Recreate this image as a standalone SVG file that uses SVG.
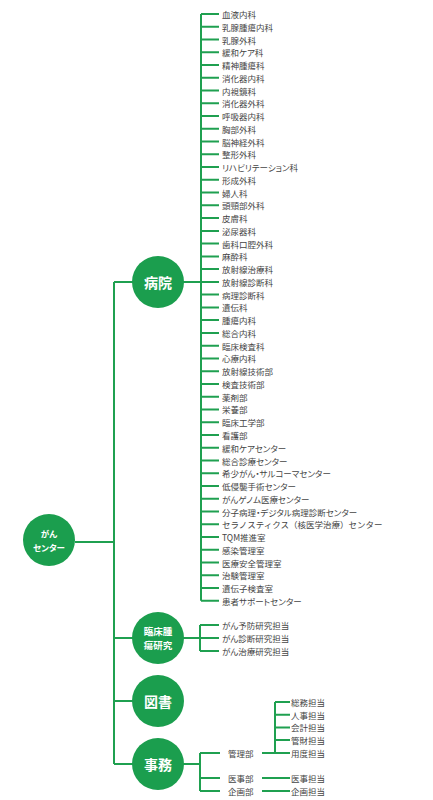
<svg xmlns="http://www.w3.org/2000/svg" width="433" height="800" viewBox="0 0 433 800">
<style>
.ln{fill:none;stroke:#1fa050;stroke-width:2}
.c{fill:#1b9e4e}
.lb{font-family:"Noto Sans CJK JP","Noto Sans",sans-serif;font-weight:bold;fill:#ffffff;text-anchor:middle;dominant-baseline:central;font-feature-settings:"palt"}
.t{font-family:"Noto Sans CJK JP","Noto Sans",sans-serif;font-size:8.5px;fill:#444444;dominant-baseline:central;font-feature-settings:"palt"}
.fw{font-feature-settings:normal}
</style>
<rect width="433" height="800" fill="#ffffff"/>
<g id="connectors">
<path class="ln" d="M114 282 V764 M75 542 H114 M114 282 H201 M201 14 V600.8 M201 14 H219 M201 26.8 H219 M201 39.5 H219 M201 52.3 H219 M201 65 H219 M201 77.8 H219 M201 90.5 H219 M201 103.3 H219 M201 116 H219 M201 128.8 H219 M201 141.6 H219 M201 154.3 H219 M201 167.1 H219 M201 179.8 H219 M201 192.6 H219 M201 205.3 H219 M201 218.1 H219 M201 230.9 H219 M201 243.6 H219 M201 256.4 H219 M201 269.1 H219 M201 281.9 H219 M201 294.6 H219 M201 307.4 H219 M201 320.1 H219 M201 332.9 H219 M201 345.7 H219 M201 358.4 H219 M201 371.2 H219 M201 383.9 H219 M201 396.7 H219 M201 409.4 H219 M201 422.2 H219 M201 434.9 H219 M201 447.7 H219 M201 460.5 H219 M201 473.2 H219 M201 486 H219 M201 498.7 H219 M201 511.5 H219 M201 524.2 H219 M201 537 H219 M201 549.8 H219 M201 562.5 H219 M201 575.3 H219 M201 588 H219 M201 600.8 H219"/>
<path class="ln" d="M114 638 H200 M200 625 V651 M200 625 H219 M200 638 H219 M200 651 H219"/>
<path class="ln" d="M114 701 H140"/>
<path class="ln" d="M114 764 H200 M200 753 V791 M200 753 H220 M200 778 H220 M200 791 H220"/>
<path class="ln" d="M262 753 H290 M275 702 V753 M275 702 H290 M275 714.7 H290 M275 727.4 H290 M275 740 H290 M262 778 H290 M262 791 H290"/>
</g>
<g id="node-gan-center">
<circle class="c" cx="49" cy="540" r="26"/>
<text class="lb" x="49" y="533" font-size="8.5">がん</text>
<text class="lb" x="49" y="547" font-size="8.5">センター</text>
</g>
<g id="node-byoin">
<circle class="c" cx="158" cy="282" r="26"/>
<text class="lb" x="158" y="282" font-size="14">病院</text>
</g>
<g id="node-rinsho">
<circle class="c" cx="158" cy="638" r="26"/>
<text class="lb" x="158" y="631" font-size="9.5">臨床腫</text>
<text class="lb" x="158" y="645" font-size="9.5">瘍研究</text>
</g>
<g id="node-tosho">
<circle class="c" cx="158" cy="701" r="26"/>
<text class="lb" x="158" y="701" font-size="14">図書</text>
</g>
<g id="node-jimu">
<circle class="c" cx="158" cy="764" r="26"/>
<text class="lb" x="158" y="764" font-size="14">事務</text>
</g>
<g id="hospital-departments">
<text class="t" x="222" y="14">血液内科</text>
<text class="t" x="222" y="26.8">乳腺腫瘍内科</text>
<text class="t" x="222" y="39.5">乳腺外科</text>
<text class="t" x="222" y="52.3">緩和ケア科</text>
<text class="t" x="222" y="65">精神腫瘍科</text>
<text class="t" x="222" y="77.8">消化器内科</text>
<text class="t" x="222" y="90.5">内視鏡科</text>
<text class="t" x="222" y="103.3">消化器外科</text>
<text class="t" x="222" y="116">呼吸器内科</text>
<text class="t" x="222" y="128.8">胸部外科</text>
<text class="t" x="222" y="141.6">脳神経外科</text>
<text class="t" x="222" y="154.3">整形外科</text>
<text class="t" x="222" y="167.1">リハビリテーション科</text>
<text class="t" x="222" y="179.8">形成外科</text>
<text class="t" x="222" y="192.6">婦人科</text>
<text class="t" x="222" y="205.3">頭頸部外科</text>
<text class="t" x="222" y="218.1">皮膚科</text>
<text class="t" x="222" y="230.9">泌尿器科</text>
<text class="t" x="222" y="243.6">歯科口腔外科</text>
<text class="t" x="222" y="256.4">麻酔科</text>
<text class="t" x="222" y="269.1">放射線治療科</text>
<text class="t" x="222" y="281.9">放射線診断科</text>
<text class="t" x="222" y="294.6">病理診断科</text>
<text class="t" x="222" y="307.4">遺伝科</text>
<text class="t" x="222" y="320.1">腫瘍内科</text>
<text class="t" x="222" y="332.9">総合内科</text>
<text class="t" x="222" y="345.7">臨床検査科</text>
<text class="t" x="222" y="358.4">心療内科</text>
<text class="t" x="222" y="371.2">放射線技術部</text>
<text class="t" x="222" y="383.9">検査技術部</text>
<text class="t" x="222" y="396.7">薬剤部</text>
<text class="t" x="222" y="409.4">栄養部</text>
<text class="t" x="222" y="422.2">臨床工学部</text>
<text class="t" x="222" y="434.9">看護部</text>
<text class="t" x="222" y="447.7">緩和ケアセンター</text>
<text class="t" x="222" y="460.5">総合診療センター</text>
<text class="t" x="222" y="473.2">希少がん・サルコーマセンター</text>
<text class="t" x="222" y="486">低侵襲手術センター</text>
<text class="t" x="222" y="498.7">がんゲノム医療センター</text>
<text class="t" x="222" y="511.5">分子病理・デジタル病理診断センター</text>
<text class="t fw" x="222" y="524.2">セラノスティクス（核医学治療）センター</text>
<text class="t" x="222" y="537">TQM推進室</text>
<text class="t" x="222" y="549.8">感染管理室</text>
<text class="t" x="222" y="562.5">医療安全管理室</text>
<text class="t" x="222" y="575.3">治験管理室</text>
<text class="t" x="222" y="588">遺伝子検査室</text>
<text class="t" x="222" y="600.8">患者サポートセンター</text>
</g>
<g id="research-units">
<text class="t" x="222" y="625">がん予防研究担当</text>
<text class="t" x="222" y="638">がん診断研究担当</text>
<text class="t" x="222" y="651">がん治療研究担当</text>
</g>
<g id="admin-units">
<text class="t" x="228" y="753">管理部</text>
<text class="t" x="228" y="778">医事部</text>
<text class="t" x="228" y="791">企画部</text>
<text class="t" x="291" y="702">総務担当</text>
<text class="t" x="291" y="714.7">人事担当</text>
<text class="t" x="291" y="727.4">会計担当</text>
<text class="t" x="291" y="740">管財担当</text>
<text class="t" x="291" y="753">用度担当</text>
<text class="t" x="291" y="778">医事担当</text>
<text class="t" x="291" y="791">企画担当</text>
</g>
</svg>
